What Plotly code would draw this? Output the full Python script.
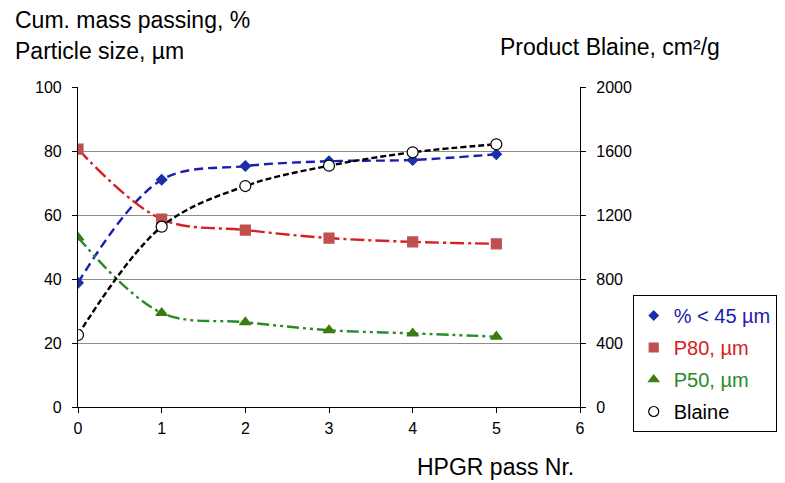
import plotly.graph_objects as go

passes = [0, 1, 2, 3, 4, 5]
pct_45 = [38.8, 71.0, 75.3, 76.8, 77.2, 79.0]
p80 = [80.6, 58.7, 55.3, 52.8, 51.6, 51.0]
p50 = [53.0, 29.4, 26.5, 24.0, 23.0, 22.0]
blaine = [450, 1127, 1381, 1508, 1592, 1642]

x_ticks = [0, 1, 2, 3, 4, 5, 6]
y_left_ticks = [0, 20, 40, 60, 80, 100]
y_right_ticks = [0, 400, 800, 1200, 1600, 2000]

BLUE = "#1c1cb0"
BLUE_M = "#1a2fa8"
RED = "#d42020"
RED_M = "#c0504d"
GREEN = "#2a8a2a"
GREEN_M = "#3d7a10"

SANS = "Liberation Sans, Arial"

fig = go.Figure()

series = [
    dict(y=pct_45, name="% < 45 µm", color=BLUE, mcolor=BLUE_M, symbol="diamond", size=8,
         dash="9px,5px", axis="y", fill=BLUE_M),
    dict(y=p80, name="P80, µm", color=RED, mcolor=RED_M, symbol="square", size=10,
         dash="14px,4px,3px,4px", axis="y", fill=RED_M),
    dict(y=p50, name="P50, µm", color=GREEN, mcolor=GREEN_M, symbol="triangle-up", size=10,
         dash="12px,4px,3px,4px,3px,4px", axis="y", fill=GREEN_M),
    dict(y=blaine, name="Blaine", color="black", mcolor="black", symbol="circle", size=11,
         dash="6px,3px", axis="y2", fill="white"),
]

for s in series:
    marker = dict(symbol=s["symbol"], size=s["size"],
                  color=s["fill"], line=dict(color=s["mcolor"], width=1.2))
    fig.add_trace(go.Scatter(
        x=passes, y=s["y"], mode="lines+markers", yaxis=s["axis"],
        line=dict(color=s["color"], width=2.4, dash=s["dash"], shape="spline", smoothing=1.0),
        marker=marker, showlegend=False, hoverinfo="skip"))

for i, s in enumerate(series):
    marker = dict(symbol=s["symbol"], size=s["size"] - 1,
                  color=s["fill"], line=dict(color=s["mcolor"], width=1.2))
    fig.add_trace(go.Scatter(
        x=[None], y=[None], mode="markers", yaxis=s["axis"], legendgroup="g%d" % i,
        name="<span style='color:%s'>%s</span>" % (s["color"], s["name"]),
        marker=marker, showlegend=True))

axis_common = dict(zeroline=False, showline=True, linecolor="black", linewidth=1.2,
                   ticks="outside", ticklen=5, tickcolor="black",
                   tickfont=dict(family=SANS, size=16))

fig.update_layout(
    width=785, height=483,
    margin=dict(l=78, r=205, t=87, b=76, autoexpand=False),
    paper_bgcolor="white", plot_bgcolor="white",
    font=dict(family=SANS, size=17, color="black"),
    xaxis=dict(range=[0, 6], tickvals=x_ticks, ticktext=[str(v) for v in x_ticks],
               showgrid=False, ticklabelstandoff=2, **axis_common),
    yaxis=dict(range=[0, 100], tickvals=y_left_ticks, showgrid=True, gridcolor="#8c8c8c",
               gridwidth=1.2, ticklabelstandoff=7, **axis_common),
    yaxis2=dict(range=[0, 2000], tickvals=y_right_ticks, overlaying="y", side="right",
                showgrid=False, ticklabelstandoff=7, **axis_common),
    legend=dict(x=1.105, y=0.35, xanchor="left", yanchor="top",
                bordercolor="black", borderwidth=1, bgcolor="white",
                font=dict(family=SANS, size=20), itemwidth=30,
                tracegroupgap=3),
    annotations=[
        dict(text="Cum. mass passing, %", x=-0.1295, y=1.209, xref="paper", yref="paper",
             xanchor="left", yanchor="middle", showarrow=False, font=dict(size=23)),
        dict(text="Particle size, µm", x=-0.1295, y=1.1125, xref="paper", yref="paper",
             xanchor="left", yanchor="middle", showarrow=False, font=dict(size=23)),
        dict(text="Product Blaine, cm²/g", x=0.8367, y=1.125, xref="paper", yref="paper",
             xanchor="left", yanchor="middle", showarrow=False, font=dict(size=23)),
        dict(text="HPGR pass Nr.", x=0.831, y=-0.1875, xref="paper", yref="paper",
             xanchor="center", yanchor="middle", showarrow=False, font=dict(size=23)),
    ],
)

fig.write_html("out.html", post_script="document.body.style.margin='0';",
               config={"displayModeBar": False})
